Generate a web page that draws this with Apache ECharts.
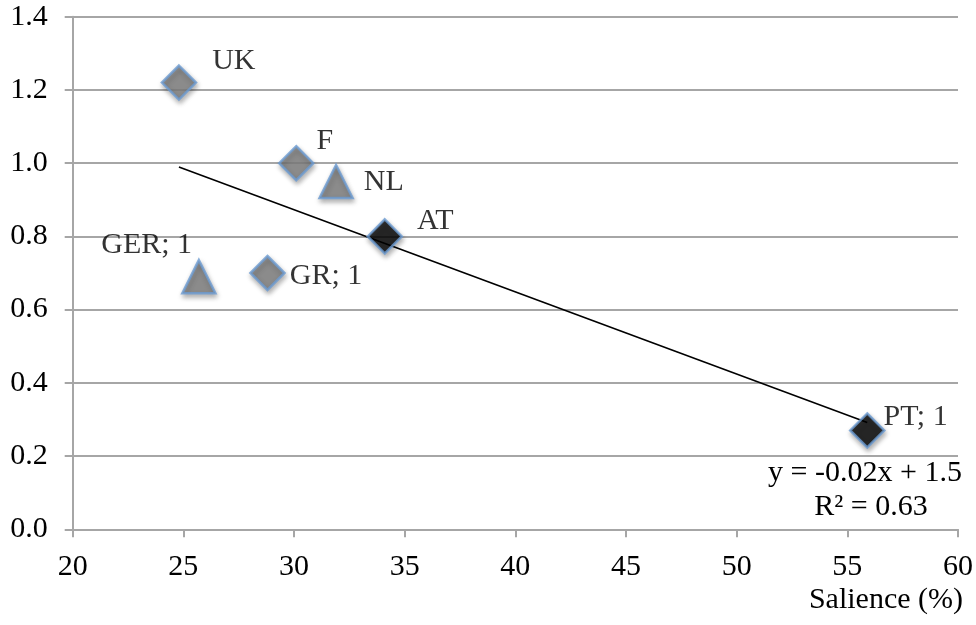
<!DOCTYPE html>
<html>
<head>
<meta charset="utf-8">
<script src="https://cdn.jsdelivr.net/npm/echarts@6/dist/echarts.min.js"></script>
<style>
html,body{margin:0;padding:0;background:#fff;}
#chart{width:976px;height:625px;}
</style>
</head>
<body>
<div id="chart"></div>
<script>
// ---- data ----
const greyDiamondNames = ['UK', 'F', 'GR; 1'];
const greyDiamondX = [24.8, 30.1, 28.8];
const greyDiamondY = [1.22, 1.00, 0.70];

const triangleNames = ['NL', 'GER; 1'];
const triangleX = [31.9, 25.7];
const triangleY = [0.95, 0.69];

const blackDiamondNames = ['AT', 'PT; 1'];
const blackDiamondX = [34.1, 55.9];
const blackDiamondY = [0.80, 0.27];

const xAxisName = 'Salience (%)';
const trendLabel = ['y = -0.02x + 1.5', 'R² = 0.63'];
const xMin = 20, xMax = 60, xStep = 5;
const yMin = 0, yMax = 1.4, yStep = 0.2;

// label placement (style, kept apart from the data)
const labelOffsets = {
  'UK': ['right', [10, -21]],
  'F': ['right', [-3, -22]],
  'GR; 1': ['right', [-1, 3]],
  'NL': ['right', [5, 1]],
  'GER; 1': ['left', [16, -32]],
  'AT': ['right', [9, -15]],
  'PT; 1': ['right', [-7, -13]]
};

// ---- linear trend (least squares over all points) ----
const allX = greyDiamondX.concat(triangleX, blackDiamondX);
const allY = greyDiamondY.concat(triangleY, blackDiamondY);
const n = allX.length;
const mx = allX.reduce((a, b) => a + b, 0) / n;
const my = allY.reduce((a, b) => a + b, 0) / n;
let sxy = 0, sxx = 0;
for (let i = 0; i < n; i++) { sxy += (allX[i] - mx) * (allY[i] - my); sxx += (allX[i] - mx) ** 2; }
const slope = sxy / sxx, intercept = my - slope * mx;
const tx0 = Math.min(...allX), tx1 = Math.max(...allX);
const trendData = [[tx0, intercept + slope * tx0], [tx1, intercept + slope * tx1]];

const FONT = '"Liberation Serif", "Times New Roman", serif';
const FS = 30;

function makeItems(names, xs, ys) {
  return names.map((nm, i) => ({
    name: nm,
    value: [xs[i], ys[i]],
    label: {
      show: true,
      formatter: nm,
      position: labelOffsets[nm][0],
      offset: labelOffsets[nm][1],
      fontFamily: FONT, fontSize: FS, color: '#000'
    }
  }));
}

const shadow = { shadowBlur: 5, shadowColor: 'rgba(0,0,0,0.35)', shadowOffsetX: 1, shadowOffsetY: 3 };

const chart = echarts.init(document.getElementById('chart'));
chart.setOption({
  animation: false,
  backgroundColor: '#fff',
  grid: { left: 72.7, right: 17.7, top: 16.7, bottom: 95.7, containLabel: false },
  xAxis: {
    type: 'value', min: xMin, max: xMax, interval: xStep,
    axisLine: { show: true, lineStyle: { color: '#a6a6a6', width: 2 } },
    axisTick: { show: true, length: 8, lineStyle: { color: '#a6a6a6', width: 2 } },
    axisLabel: { margin: 23, fontFamily: FONT, fontSize: FS, color: '#000' },
    splitLine: { show: false }
  },
  yAxis: {
    type: 'value', min: yMin, max: yMax, interval: yStep,
    axisLine: { show: true, lineStyle: { color: '#a6a6a6', width: 2 } },
    axisTick: { show: true, length: 8, lineStyle: { color: '#a6a6a6', width: 2 } },
    axisLabel: { margin: 25, fontFamily: FONT, fontSize: FS, color: '#000', formatter: v => v.toFixed(1) },
    splitLine: { show: true, lineStyle: { color: '#a6a6a6', width: 2 } }
  },
  graphic: [
    { type: 'text', x: 963, y: 585, style: { text: xAxisName, font: FS + 'px ' + FONT, fill: '#000', textAlign: 'right', textVerticalAlign: 'top' } },
    { type: 'text', x: 865, y: 458, style: { text: trendLabel[0], font: FS + 'px ' + FONT, fill: '#000', textAlign: 'center', textVerticalAlign: 'top' } },
    { type: 'text', x: 871, y: 492, style: { text: trendLabel[1], font: FS + 'px ' + FONT, fill: '#000', textAlign: 'center', textVerticalAlign: 'top' } }
  ],
  series: [
    {
      type: 'line', data: trendData, symbol: 'none', z: 1,
      lineStyle: { color: '#000', width: 1.6 }, silent: true
    },
    {
      type: 'scatter', z: 3, symbol: 'diamond', symbolSize: 34,
      itemStyle: Object.assign({ color: '#808080', borderColor: '#6b9bd2', borderWidth: 2.5 }, shadow),
      data: makeItems(greyDiamondNames, greyDiamondX, greyDiamondY)
    },
    {
      type: 'scatter', z: 3, symbol: 'triangle', symbolSize: 33,
      itemStyle: Object.assign({ color: '#808080', borderColor: '#6b9bd2', borderWidth: 2.5 }, shadow),
      data: makeItems(triangleNames, triangleX, triangleY)
    },
    {
      type: 'scatter', z: 3, symbol: 'diamond', symbolSize: 34,
      itemStyle: Object.assign({ color: '#000', borderColor: '#6b9bd2', borderWidth: 2.5 }, shadow),
      data: makeItems(blackDiamondNames, blackDiamondX, blackDiamondY)
    }
  ]
});
</script>
</body>
</html>
